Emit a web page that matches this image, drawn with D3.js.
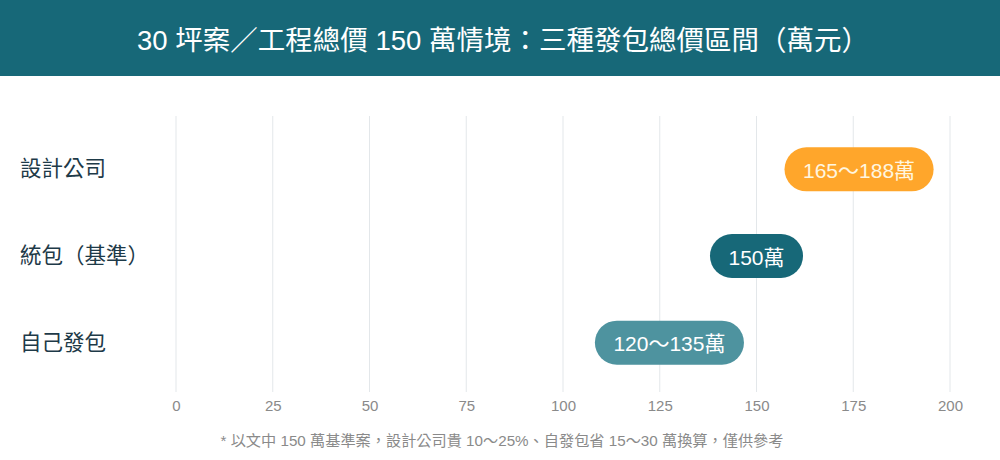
<!DOCTYPE html>
<html><head><meta charset="utf-8">
<script src="https://cdn.jsdelivr.net/npm/d3@7"></script>
<style>
html,body{margin:0;padding:0;background:#fff;}
svg{display:block;font-family:"Liberation Sans","Noto Sans CJK TC",sans-serif;}
</style></head>
<body><svg id="c" width="1000" height="460"></svg>
<script>
const title = "30 坪案／工程總價 150 萬情境：三種發包總價區間（萬元）";
const categories = ["設計公司", "統包（基準）", "自己發包"];
const lowValues = [165, 150, 120];
const highValues = [188, 150, 135];
const barLabels = ["165～188萬", "150萬", "120～135萬"];
const barColors = ["#FFA62B", "#176878", "#4E939F"];
const textColors = ["#FFF6E0", "#FFFFFF", "#FFFFFF"];
const tickValues = [0, 25, 50, 75, 100, 125, 150, 175, 200];
const footnote = "* 以文中 150 萬基準案，設計公司貴 10～25%、自發包省 15～30 萬換算，僅供參考";

const svg = d3.select("#c");
const W = 1000, H = 460;

svg.append("rect").attr("x",0).attr("y",0).attr("width",W).attr("height",76).attr("fill","#176878");
svg.append("text").attr("x",503).attr("y",40).attr("text-anchor","middle").attr("dominant-baseline","central")
  .attr("fill","#fff").attr("font-size",27.5).text(title);

const x = d3.scaleLinear().domain([0,200]).range([176,950]);
const y = d3.scaleBand().domain(categories).range([126,386]);

// grid
const gy0 = 116, gy1 = 392;
svg.append("g").selectAll("line").data(tickValues).join("line")
  .attr("x1",d=>x(d)).attr("x2",d=>x(d)).attr("y1",gy0).attr("y2",gy1)
  .attr("stroke","#e3e7ea").attr("stroke-width",1);

// axis
const axis = svg.append("g").attr("transform",`translate(0,${gy1})`)
  .call(d3.axisBottom(x).tickValues(tickValues).tickSize(0).tickPadding(8));
axis.select(".domain").remove();
axis.selectAll("text").attr("font-size",15).attr("fill","#8a8a8a").attr("font-family","Liberation Sans, sans-serif");

// category labels
svg.append("g").selectAll("text").data(categories).join("text")
  .attr("x",20).attr("y",d=>y(d)+y.bandwidth()/2).attr("dominant-baseline","central")
  .attr("font-size",21.5).attr("fill","#1e3a48").text(d=>d);

// pills
const pillH = 44, padX = 18.5;
const g = svg.append("g");
categories.forEach((c,i)=>{
  const cy = y(c)+y.bandwidth()/2;
  const mid = (lowValues[i]+highValues[i])/2;
  const cx = x(mid);
  const t = g.append("text").attr("x",cx).attr("y",cy+1).attr("text-anchor","middle")
    .attr("dominant-baseline","central").attr("font-size",21).attr("fill",textColors[i]).text(barLabels[i]);
  const tw = t.node().getComputedTextLength();
  const rw = x(highValues[i]) - x(lowValues[i]);
  const w = Math.max(rw, tw + 2*padX);
  g.insert("rect", "text").attr("x",cx-w/2).attr("y",cy-pillH/2).attr("width",w).attr("height",pillH)
    .attr("rx",pillH/2).attr("fill",barColors[i]);
});

svg.append("text").attr("x",502).attr("y",440).attr("text-anchor","middle").attr("dominant-baseline","central")
  .attr("font-size",15.2).attr("fill","#8a8a8a").text(footnote);
</script></body></html>
